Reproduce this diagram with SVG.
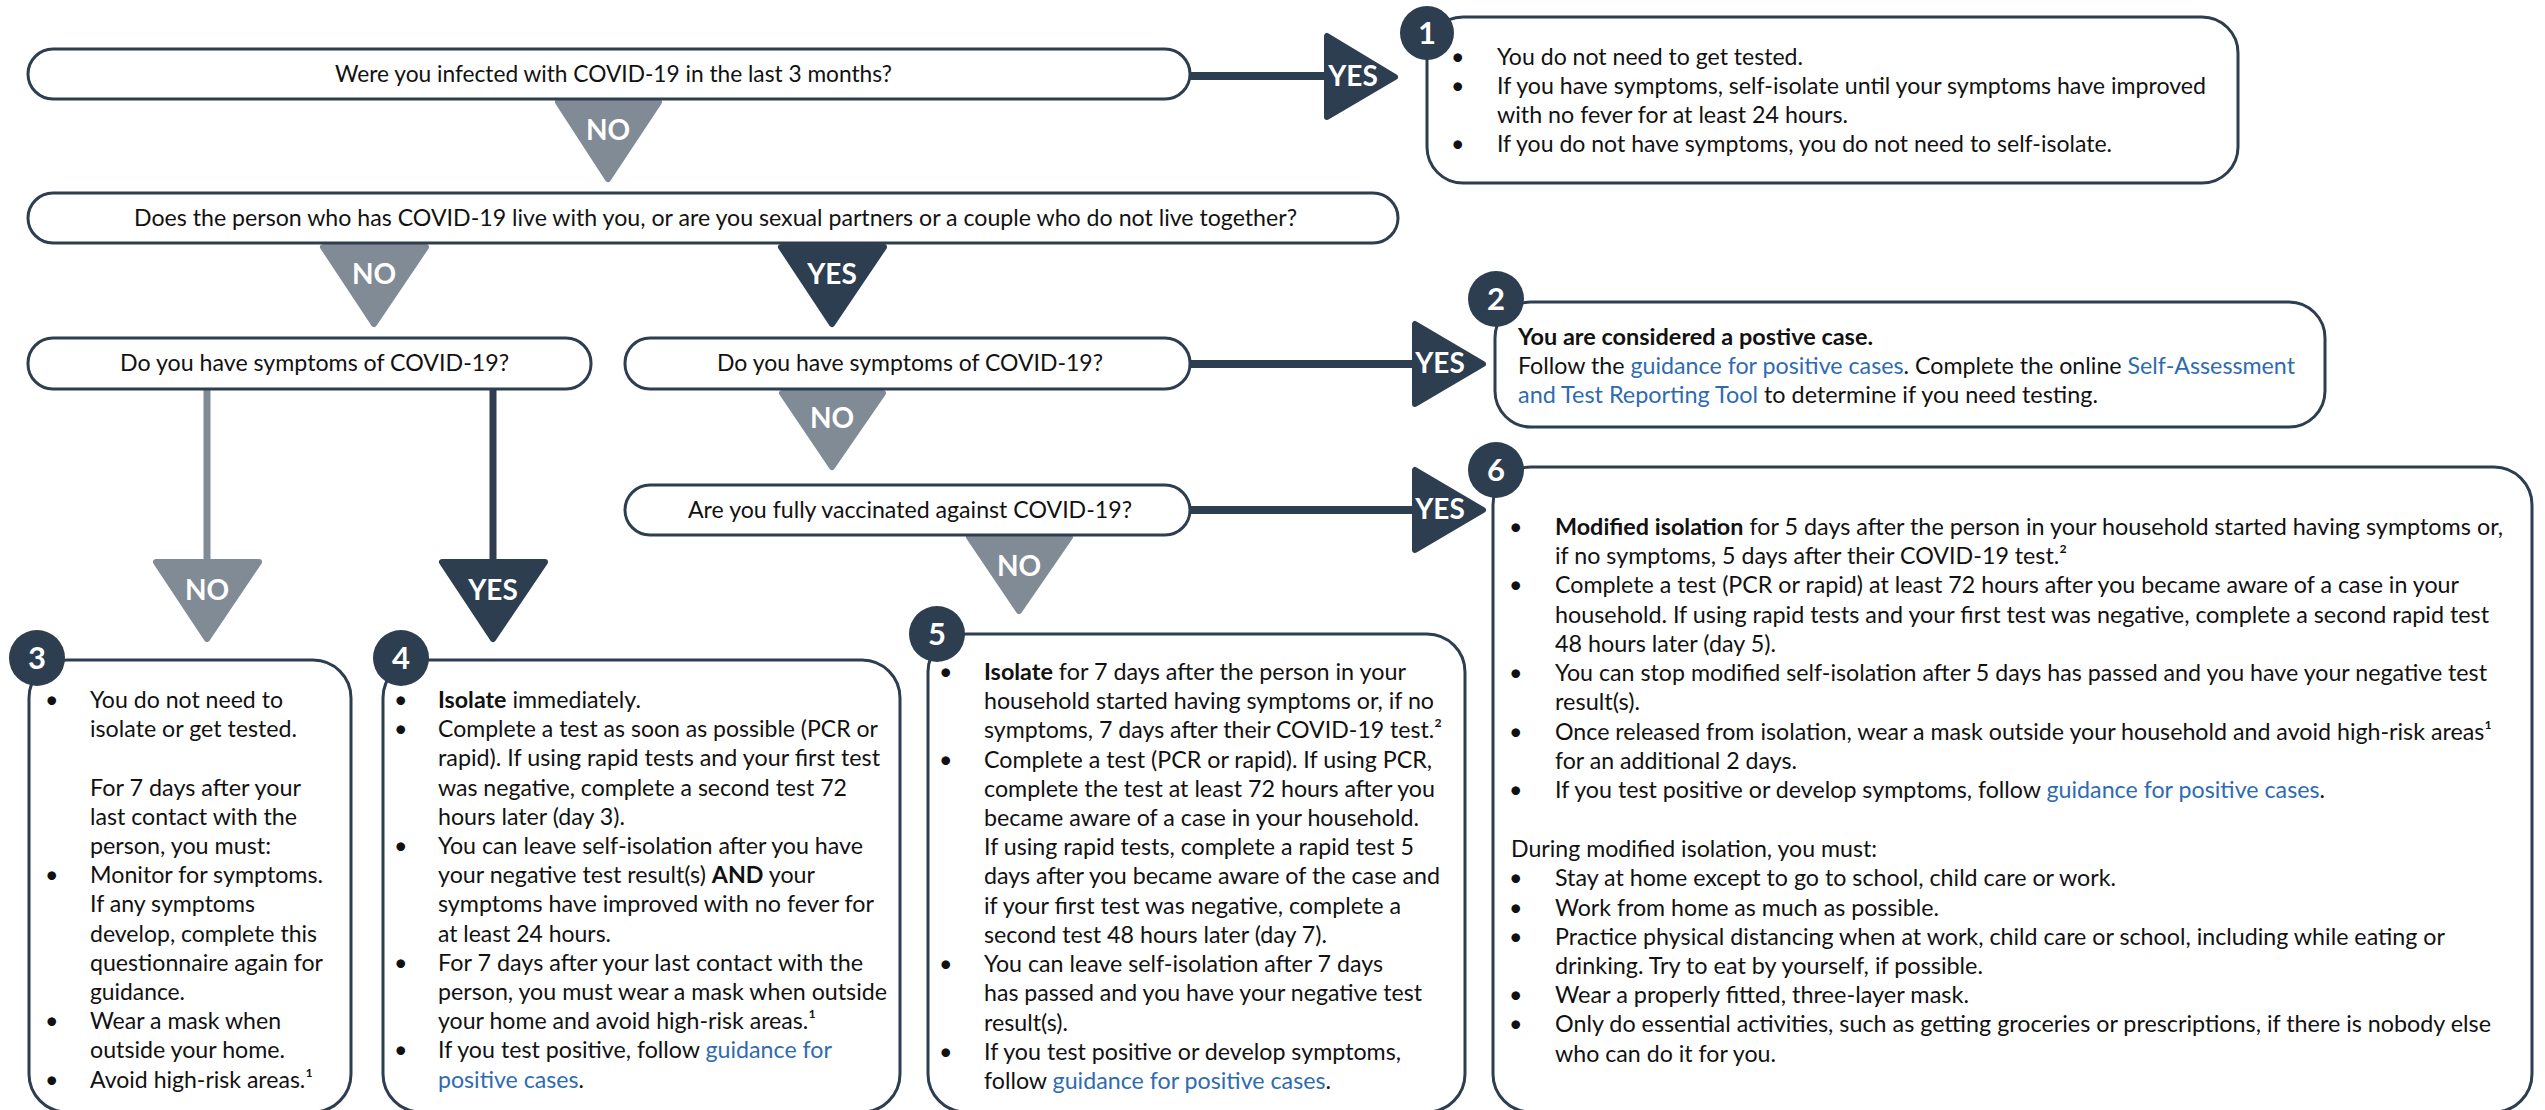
<svg xmlns="http://www.w3.org/2000/svg" width="2545" height="1110" viewBox="0 0 2545 1110">
<defs>
<style>
.q{fill:#fff;stroke:#2c3e50;stroke-width:3}
.box{fill:#fff;stroke:#2c3e50;stroke-width:3}
.t{font-family:Lato,"Open Sans","Liberation Sans",sans-serif;font-size:23.2px;fill:#111}
.qt{font-family:Lato,"Open Sans","Liberation Sans",sans-serif;font-size:23.2px;fill:#111}
.b{font-weight:700}
.lnk{fill:#2e6bb0}
.dk{fill:#2c3e50;stroke:#2c3e50;stroke-width:6;stroke-linejoin:round}
.gy{fill:#808b96;stroke:#808b96;stroke-width:6;stroke-linejoin:round}
.ldk{stroke:#2c3e50;stroke-width:8;fill:none}
.lgy{stroke:#808b96;stroke-width:7;fill:none}
.lbl{font-family:Lato,"Open Sans","Liberation Sans",sans-serif;font-weight:700;font-size:28px;fill:#fff;text-anchor:middle}
.circ{fill:#2c3e50}
.num{font-family:Lato,"Open Sans","Liberation Sans",sans-serif;font-weight:700;font-size:31px;fill:#fff;text-anchor:middle}
</style>
</defs>
<rect width="2545" height="1110" fill="#fff"/>

<g id="connectors">
<line class="ldk" x1="1190" y1="76" x2="1330" y2="76"/>
<line class="ldk" x1="1190" y1="364" x2="1418" y2="364"/>
<line class="ldk" x1="1190" y1="510" x2="1418" y2="510"/>
<line class="lgy" x1="207" y1="389" x2="207" y2="562"/>
<line class="ldk" x1="493" y1="389" x2="493" y2="562" style="stroke-width:7"/>
<polygon class="gy" points="558,102 659,102 608,179"/>
<text class="lbl" x="608" y="140">NO</text>
<polygon class="gy" points="323,247 426,247 374,324"/>
<text class="lbl" x="374" y="284">NO</text>
<polygon class="dk" points="781,247 884,247 832,324"/>
<text class="lbl" x="832" y="284">YES</text>
<polygon class="gy" points="782,393 883,393 832,467"/>
<text class="lbl" x="832" y="428">NO</text>
<polygon class="gy" points="969,537 1070,537 1019,611"/>
<text class="lbl" x="1019" y="576">NO</text>
<polygon class="gy" points="156,562 259,562 207,639"/>
<text class="lbl" x="207" y="600">NO</text>
<polygon class="dk" points="442,562 545,562 493,639"/>
<text class="lbl" x="493" y="600">YES</text>
<polygon class="dk" points="1327,36 1327,117 1395,77"/>
<text class="lbl" x="1353" y="86">YES</text>
<polygon class="dk" points="1415,324 1415,404 1483,364"/>
<text class="lbl" x="1440" y="373">YES</text>
<polygon class="dk" points="1415,470 1415,550 1483,510"/>
<text class="lbl" x="1440" y="519">YES</text>
</g>

<g id="q1">
<rect class="q" x="28" y="49" width="1162" height="50" rx="25"/>
<text class="qt" x="335" y="82" textLength="557" lengthAdjust="spacingAndGlyphs">Were you infected with COVID-19 in the last 3 months?</text>
</g>
<g id="q2">
<rect class="q" x="28" y="193" width="1370" height="50" rx="25"/>
<text class="qt" x="134" y="226" textLength="1163" lengthAdjust="spacingAndGlyphs">Does the person who has COVID-19 live with you, or are you sexual partners or a couple who do not live together?</text>
</g>
<g id="q3a">
<rect class="q" x="28" y="338" width="563" height="51" rx="25"/>
<text class="qt" x="120" y="371" textLength="389" lengthAdjust="spacingAndGlyphs">Do you have symptoms of COVID-19?</text>
</g>
<g id="q3b">
<rect class="q" x="625" y="338" width="565" height="51" rx="25"/>
<text class="qt" x="717" y="371" textLength="386" lengthAdjust="spacingAndGlyphs">Do you have symptoms of COVID-19?</text>
</g>
<g id="q4">
<rect class="q" x="625" y="485" width="565" height="50" rx="25"/>
<text class="qt" x="688" y="518" textLength="444" lengthAdjust="spacingAndGlyphs">Are you fully vaccinated against COVID-19?</text>
</g>

<g id="r1">
<rect class="box" x="1427" y="17" width="811" height="166" rx="36"/>
<circle class="circ" cx="1427" cy="33" r="27"/>
<text class="num" x="1427" y="44">1</text>
<text class="t" x="1451" y="65">•</text><text class="t" x="1497" y="65" textLength="306" lengthAdjust="spacingAndGlyphs">You do not need to get tested.</text>
<text class="t" x="1451" y="94">•</text><text class="t" x="1497" y="94" textLength="709" lengthAdjust="spacingAndGlyphs">If you have symptoms, self-isolate until your symptoms have improved</text>
<text class="t" x="1497" y="123" textLength="351" lengthAdjust="spacingAndGlyphs">with no fever for at least 24 hours.</text>
<text class="t" x="1451" y="152">•</text><text class="t" x="1497" y="152" textLength="615" lengthAdjust="spacingAndGlyphs">If you do not have symptoms, you do not need to self-isolate.</text>
</g>

<g id="r2">
<rect class="box" x="1495" y="302" width="830" height="125" rx="36"/>
<circle class="circ" cx="1496" cy="299" r="28"/>
<text class="num" x="1496" y="310">2</text>
<text class="t b" x="1518" y="345" textLength="355" lengthAdjust="spacingAndGlyphs">You are considered a postive case.</text>
<text class="t" x="1518" y="374" textLength="777" lengthAdjust="spacingAndGlyphs">Follow the <tspan class="lnk">guidance for positive cases</tspan>. Complete the online <tspan class="lnk">Self-Assessment</tspan></text>
<text class="t" x="1518" y="403" textLength="580" lengthAdjust="spacingAndGlyphs"><tspan class="lnk">and Test Reporting Tool</tspan> to determine if you need testing.</text>
</g>

<g id="r3">
<rect class="box" x="29" y="660" width="322" height="452" rx="38"/>
<circle class="circ" cx="37" cy="658" r="28"/>
<text class="num" x="37" y="669">3</text>
<text class="t" x="45" y="708">•</text><text class="t" x="90" y="708" textLength="193" lengthAdjust="spacingAndGlyphs">You do not need to</text>
<text class="t" x="90" y="737" textLength="207" lengthAdjust="spacingAndGlyphs">isolate or get tested.</text>
<text class="t" x="90" y="796" textLength="211" lengthAdjust="spacingAndGlyphs">For 7 days after your</text>
<text class="t" x="90" y="825" textLength="207" lengthAdjust="spacingAndGlyphs">last contact with the</text>
<text class="t" x="90" y="854" textLength="181" lengthAdjust="spacingAndGlyphs">person, you must:</text>
<text class="t" x="45" y="883">•</text><text class="t" x="90" y="883" textLength="233" lengthAdjust="spacingAndGlyphs">Monitor for symptoms.</text>
<text class="t" x="90" y="912" textLength="165" lengthAdjust="spacingAndGlyphs">If any symptoms</text>
<text class="t" x="90" y="942" textLength="227" lengthAdjust="spacingAndGlyphs">develop, complete this</text>
<text class="t" x="90" y="971" textLength="233" lengthAdjust="spacingAndGlyphs">questionnaire again for</text>
<text class="t" x="90" y="1000" textLength="95" lengthAdjust="spacingAndGlyphs">guidance.</text>
<text class="t" x="45" y="1029">•</text><text class="t" x="90" y="1029" textLength="191" lengthAdjust="spacingAndGlyphs">Wear a mask when</text>
<text class="t" x="90" y="1058" textLength="195" lengthAdjust="spacingAndGlyphs">outside your home.</text>
<text class="t" x="45" y="1088">•</text><text class="t" x="90" y="1088" textLength="223" lengthAdjust="spacingAndGlyphs">Avoid high-risk areas.¹</text>
</g>

<g id="r4">
<rect class="box" x="383" y="660" width="517" height="452" rx="38"/>
<circle class="circ" cx="401" cy="658" r="28"/>
<text class="num" x="401" y="669">4</text>
<text class="t" x="394" y="708">•</text><text class="t" x="438" y="708" textLength="203" lengthAdjust="spacingAndGlyphs"><tspan class="b">Isolate</tspan> immediately.</text>
<text class="t" x="394" y="737">•</text><text class="t" x="438" y="737" textLength="440" lengthAdjust="spacingAndGlyphs">Complete a test as soon as possible (PCR or</text>
<text class="t" x="438" y="766" textLength="442" lengthAdjust="spacingAndGlyphs">rapid). If using rapid tests and your first test</text>
<text class="t" x="438" y="796" textLength="409" lengthAdjust="spacingAndGlyphs">was negative, complete a second test 72</text>
<text class="t" x="438" y="825" textLength="187" lengthAdjust="spacingAndGlyphs">hours later (day 3).</text>
<text class="t" x="394" y="854">•</text><text class="t" x="438" y="854" textLength="425" lengthAdjust="spacingAndGlyphs">You can leave self-isolation after you have</text>
<text class="t" x="438" y="883" textLength="377" lengthAdjust="spacingAndGlyphs">your negative test result(s) <tspan class="b">AND</tspan> your</text>
<text class="t" x="438" y="912" textLength="436" lengthAdjust="spacingAndGlyphs">symptoms have improved with no fever for</text>
<text class="t" x="438" y="942" textLength="173" lengthAdjust="spacingAndGlyphs">at least 24 hours.</text>
<text class="t" x="394" y="971">•</text><text class="t" x="438" y="971" textLength="425" lengthAdjust="spacingAndGlyphs">For 7 days after your last contact with the</text>
<text class="t" x="438" y="1000" textLength="449" lengthAdjust="spacingAndGlyphs">person, you must wear a mask when outside</text>
<text class="t" x="438" y="1029" textLength="378" lengthAdjust="spacingAndGlyphs">your home and avoid high-risk areas.¹</text>
<text class="t" x="394" y="1058">•</text><text class="t" x="438" y="1058" textLength="394" lengthAdjust="spacingAndGlyphs">If you test positive, follow <tspan class="lnk">guidance for</tspan></text>
<text class="t" x="438" y="1088" textLength="146" lengthAdjust="spacingAndGlyphs"><tspan class="lnk">positive cases</tspan>.</text>
</g>

<g id="r5">
<rect class="box" x="928" y="634" width="537" height="478" rx="38"/>
<circle class="circ" cx="937" cy="634" r="28"/>
<text class="num" x="937" y="645">5</text>
<text class="t" x="939" y="680">•</text><text class="t" x="984" y="680" textLength="422" lengthAdjust="spacingAndGlyphs"><tspan class="b">Isolate</tspan> for 7 days after the person in your</text>
<text class="t" x="984" y="709" textLength="450" lengthAdjust="spacingAndGlyphs">household started having symptoms or, if no</text>
<text class="t" x="984" y="738" textLength="458" lengthAdjust="spacingAndGlyphs">symptoms, 7 days after their COVID-19 test.²</text>
<text class="t" x="939" y="768">•</text><text class="t" x="984" y="768" textLength="448" lengthAdjust="spacingAndGlyphs">Complete a test (PCR or rapid). If using PCR,</text>
<text class="t" x="984" y="797" textLength="451" lengthAdjust="spacingAndGlyphs">complete the test at least 72 hours after you</text>
<text class="t" x="984" y="826" textLength="435" lengthAdjust="spacingAndGlyphs">became aware of a case in your household.</text>
<text class="t" x="984" y="855" textLength="430" lengthAdjust="spacingAndGlyphs">If using rapid tests, complete a rapid test 5</text>
<text class="t" x="984" y="884" textLength="456" lengthAdjust="spacingAndGlyphs">days after you became aware of the case and</text>
<text class="t" x="984" y="914" textLength="417" lengthAdjust="spacingAndGlyphs">if your first test was negative, complete a</text>
<text class="t" x="984" y="943" textLength="343" lengthAdjust="spacingAndGlyphs">second test 48 hours later (day 7).</text>
<text class="t" x="939" y="972">•</text><text class="t" x="984" y="972" textLength="399" lengthAdjust="spacingAndGlyphs">You can leave self-isolation after 7 days</text>
<text class="t" x="984" y="1001" textLength="438" lengthAdjust="spacingAndGlyphs">has passed and you have your negative test</text>
<text class="t" x="984" y="1031" textLength="84" lengthAdjust="spacingAndGlyphs">result(s).</text>
<text class="t" x="939" y="1060">•</text><text class="t" x="984" y="1060" textLength="417" lengthAdjust="spacingAndGlyphs">If you test positive or develop symptoms,</text>
<text class="t" x="984" y="1089" textLength="347" lengthAdjust="spacingAndGlyphs">follow <tspan class="lnk">guidance for positive cases</tspan>.</text>
</g>

<g id="r6">
<rect class="box" x="1493" y="467" width="1039" height="645" rx="38"/>
<circle class="circ" cx="1496" cy="470" r="28"/>
<text class="num" x="1496" y="481">6</text>
<text class="t" x="1509" y="535">•</text><text class="t" x="1555" y="535" textLength="948" lengthAdjust="spacingAndGlyphs"><tspan class="b">Modified isolation</tspan> for 5 days after the person in your household started having symptoms or,</text>
<text class="t" x="1555" y="564" textLength="512" lengthAdjust="spacingAndGlyphs">if no symptoms, 5 days after their COVID-19 test.²</text>
<text class="t" x="1509" y="593">•</text><text class="t" x="1555" y="593" textLength="904" lengthAdjust="spacingAndGlyphs">Complete a test (PCR or rapid) at least 72 hours after you became aware of a case in your</text>
<text class="t" x="1555" y="623" textLength="934" lengthAdjust="spacingAndGlyphs">household. If using rapid tests and your first test was negative, complete a second rapid test</text>
<text class="t" x="1555" y="652" textLength="221" lengthAdjust="spacingAndGlyphs">48 hours later (day 5).</text>
<text class="t" x="1509" y="681">•</text><text class="t" x="1555" y="681" textLength="932" lengthAdjust="spacingAndGlyphs">You can stop modified self-isolation after 5 days has passed and you have your negative test</text>
<text class="t" x="1555" y="710" textLength="85" lengthAdjust="spacingAndGlyphs">result(s).</text>
<text class="t" x="1509" y="740">•</text><text class="t" x="1555" y="740" textLength="937" lengthAdjust="spacingAndGlyphs">Once released from isolation, wear a mask outside your household and avoid high-risk areas¹</text>
<text class="t" x="1555" y="769" textLength="242" lengthAdjust="spacingAndGlyphs">for an additional 2 days.</text>
<text class="t" x="1509" y="798">•</text><text class="t" x="1555" y="798" textLength="770" lengthAdjust="spacingAndGlyphs">If you test positive or develop symptoms, follow <tspan class="lnk">guidance for positive cases</tspan>.</text>
<text class="t" x="1511" y="857" textLength="366" lengthAdjust="spacingAndGlyphs">During modified isolation, you must:</text>
<text class="t" x="1509" y="886">•</text><text class="t" x="1555" y="886" textLength="561" lengthAdjust="spacingAndGlyphs">Stay at home except to go to school, child care or work.</text>
<text class="t" x="1509" y="916">•</text><text class="t" x="1555" y="916" textLength="384" lengthAdjust="spacingAndGlyphs">Work from home as much as possible.</text>
<text class="t" x="1509" y="945">•</text><text class="t" x="1555" y="945" textLength="890" lengthAdjust="spacingAndGlyphs">Practice physical distancing when at work, child care or school, including while eating or</text>
<text class="t" x="1555" y="974" textLength="428" lengthAdjust="spacingAndGlyphs">drinking. Try to eat by yourself, if possible.</text>
<text class="t" x="1509" y="1003">•</text><text class="t" x="1555" y="1003" textLength="414" lengthAdjust="spacingAndGlyphs">Wear a properly fitted, three-layer mask.</text>
<text class="t" x="1509" y="1032">•</text><text class="t" x="1555" y="1032" textLength="936" lengthAdjust="spacingAndGlyphs">Only do essential activities, such as getting groceries or prescriptions, if there is nobody else</text>
<text class="t" x="1555" y="1062" textLength="221" lengthAdjust="spacingAndGlyphs">who can do it for you.</text>
</g>
</svg>
